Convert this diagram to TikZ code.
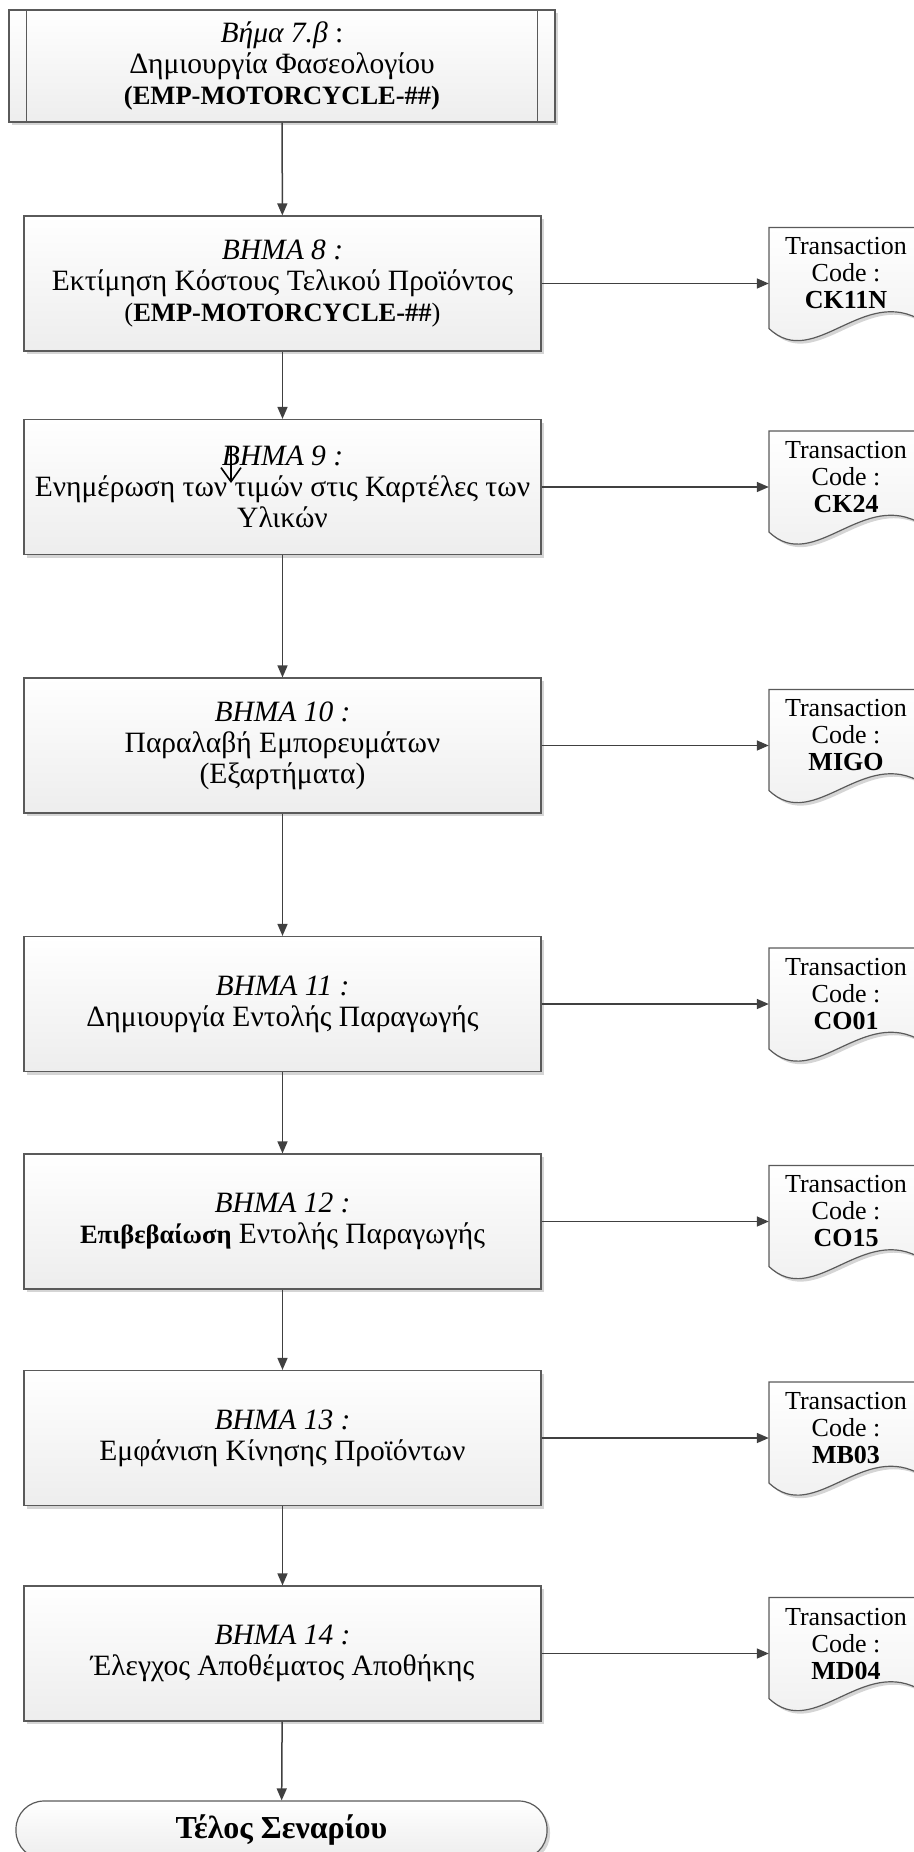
\documentclass[tikz,border=0pt]{standalone}
\usepackage{fontspec}
\setmainfont{Liberation Serif}
\usetikzlibrary{arrows.meta,shadows}
\definecolor{boxline}{HTML}{5A5A5A}
\definecolor{flowline}{HTML}{404040}
\newcommand{\empcode}{\fontsize{26.5}{31}\selectfont}
\tikzset{
  boxshadow/.style={drop shadow={shadow xshift=3pt, shadow yshift=-3pt, fill=gray!55, opacity=0.6}},
  stepbox/.style={draw=boxline, line width=1.2pt, top color=white, bottom color=gray!14,
    minimum width=517pt, minimum height=135pt, inner sep=0pt, align=center,
    font=\fontsize{29.5}{31}\selectfont, boxshadow},
  procbox/.style={stepbox, minimum width=546pt, minimum height=112pt},
  endbox/.style={stepbox, rounded corners=28pt, minimum width=531pt, minimum height=58pt,
    font=\fontsize{32}{34}\selectfont\bfseries},
  docshape/.style={draw=boxline, line width=1.2pt, top color=white, bottom color=gray!14, boxshadow},
  doctext/.style={minimum width=154pt, inner sep=0pt, align=center, font=\fontsize{26}{27}\selectfont},
  flow/.style={draw=flowline, line width=1.5pt, -{Triangle[length=12pt,width=10pt]}}
}
\begin{document}
\begin{tikzpicture}[x=1pt, y=-1pt]
  \useasboundingbox (0,0) rectangle (913,1852);

  % Schritt 7.b (vordefinierter Prozess)
  \node[procbox] (s7) at (282,66) {\textit{Βήμα 7.β} :\\Δημιουργία Φασεολογίου\\{\empcode\textbf{(EMP-MOTORCYCLE-\#\#)}}};
  \draw[boxline, line width=1.2pt] ([xshift=18pt]s7.north west) -- ([xshift=18pt]s7.south west);
  \draw[boxline, line width=1.2pt] ([xshift=-18pt]s7.north east) -- ([xshift=-18pt]s7.south east);

  % Schritte 8 bis 14
  \node[stepbox] (s8) at (282.5,283.5) {\textit{ΒΗΜΑ 8 :}\\Εκτίμηση Κόστους Τελικού Προϊόντος\\{\empcode(\textbf{EMP-MOTORCYCLE-\#\#})}};
  \node[stepbox] (s9) at (282.5,487) {\textit{ΒΗΜΑ 9 :}\\Ενημέρωση των τιμών στις Καρτέλες των\\Υλικών};
  \node[stepbox] (s10) at (282.5,745.5) {\textit{ΒΗΜΑ 10 :}\\Παραλαβή Εμπορευμάτων\\(Εξαρτήματα)};
  \node[stepbox] (s11) at (282.5,1004) {\textit{ΒΗΜΑ 11 :}\\Δημιουργία Εντολής Παραγωγής};
  \node[stepbox] (s12) at (282.5,1221.5) {\textit{ΒΗΜΑ 12 :}\\{\empcode\textbf{Επιβεβαίωση}} Εντολής Παραγωγής};
  \node[stepbox] (s13) at (282.5,1438) {\textit{ΒΗΜΑ 13 :}\\Εμφάνιση Κίνησης Προϊόντων};
  \node[stepbox] (s14) at (282.5,1653.5) {\textit{ΒΗΜΑ 14 :}\\Έλεγχος Αποθέματος Αποθήκης};

  % Ende
  \node[endbox] (ende) at (281.5,1830) {Τέλος Σεναρίου};

  % Hauptfluss
  \draw[flow] (s7) -- (s8);
  \draw[flow] (s8) -- (s9);
  \draw[flow] (s9) -- (s10);
  \draw[flow] (s10) -- (s11);
  \draw[flow] (s11) -- (s12);
  \draw[flow] (s12) -- (s13);
  \draw[flow] (s13) -- (s14);
  \draw[flow] (s14) -- (ende);

  % Transaktionscodes
  \foreach \nm/\cy/\code in {8/283.5/CK11N, 9/487/CK24, 10/745.5/MIGO, 11/1004/CO01,
      12/1221.5/CO15, 13/1438/MB03, 14/1653.5/MD04} {
    \draw[docshape] (769,\cy-56) -- (923,\cy-56) -- (923,\cy+38)
      .. controls (864,\cy+0) and (814,\cy+88) .. (769,\cy+45) -- cycle;
    \node[doctext] (d\nm) at (846,\cy-10) {Transaction\\Code :\\\textbf{\code}};
    \draw[flow] (s\nm.east) -- (s\nm.east -| d\nm.west);
  }

  % kleiner Pfeil in Schritt 9
  \coordinate (pin) at (231,447);
  \coordinate (pinend) at (231,483);
  \draw[black, line width=1.6pt, -{Straight Barb[length=14pt,width=20pt]}] (pin) -- (pinend);
\end{tikzpicture}
\end{document}
